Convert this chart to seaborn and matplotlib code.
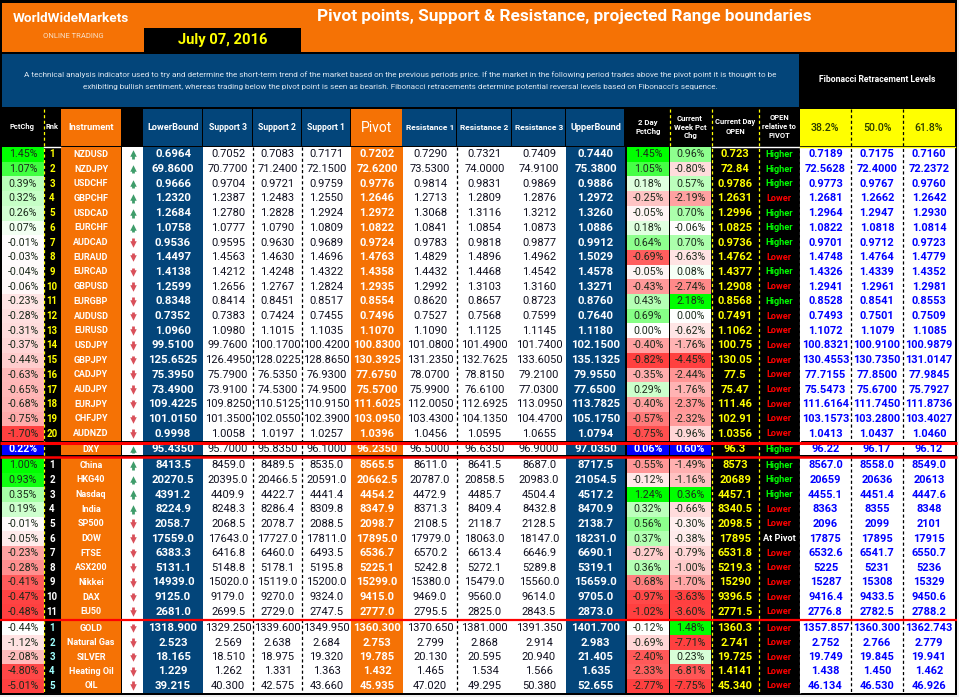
import numpy as np
import matplotlib
matplotlib.use('Agg')
import matplotlib.pyplot as plt
from matplotlib.colors import LinearSegmentedColormap, ListedColormap, TwoSlopeNorm
from matplotlib.patches import Rectangle
import seaborn as sns

instruments = ['NZDUSD', 'NZDJPY', 'USDCHF', 'GBPCHF', 'USDCAD', 'EURCHF', 'AUDCAD', 'EURAUD', 'EURCAD', 'GBPUSD',
               'EURGBP', 'AUDUSD', 'EURUSD', 'USDJPY', 'GBPJPY', 'CADJPY', 'AUDJPY', 'EURJPY', 'CHFJPY', 'AUDNZD',
               'DXY',
               'China', 'HKG40', 'Nasdaq', 'India', 'SP500', 'DOW', 'FTSE', 'ASX200', 'Nikkei', 'DAX', 'EU50',
               'GOLD', 'Natural Gas', 'SILVER', 'Heating Oil', 'OIL']
ranks = [str(i) for i in range(1, 21)] + [''] + [str(i) for i in range(1, 12)] + [str(i) for i in range(1, 6)]

pct_chg = [1.45, 1.07, 0.39, 0.32, 0.26, 0.07, -0.01, -0.03, -0.04, -0.06,
           -0.23, -0.28, -0.31, -0.37, -0.44, -0.63, -0.65, -0.68, -0.75, -1.70,
           0.22,
           1.00, 0.93, 0.35, 0.19, -0.01, -0.05, -0.23, -0.28, -0.41, -0.47, -0.48,
           -0.44, -1.12, -2.08, -4.80, -5.01]
two_day = [1.45, 1.05, 0.18, -0.25, -0.05, 0.18, 0.64, -0.69, -0.05, -0.43,
           0.43, 0.69, 0.00, -0.40, -0.82, -0.35, 0.29, -0.40, -0.57, -0.75,
           0.06,
           -0.55, -0.12, 1.24, 0.32, 0.56, 0.37, -0.27, 0.36, -0.68, -0.97, -1.02,
           -0.12, -0.69, -2.40, -2.33, -2.77]
week_chg = [0.96, -0.80, 0.57, -2.19, 0.70, -0.06, 0.70, -0.63, 0.08, -2.74,
            2.18, 0.00, -0.62, -1.76, -4.45, -2.44, -1.76, -2.37, -2.32, -0.96,
            0.60,
            -1.49, -1.16, 0.36, -0.66, -0.30, -0.38, -0.79, -1.00, -1.70, -3.63, -3.60,
            1.48, -7.71, 0.23, -6.81, -7.75]

lower_bound = ['0.6964', '69.8600', '0.9666', '1.2320', '1.2684', '1.0758', '0.9536', '1.4497', '1.4138', '1.2599',
               '0.8348', '0.7352', '1.0960', '99.5100', '125.6525', '75.3950', '73.4900', '109.4225', '101.0150', '0.9998',
               '95.4350',
               '8413.5', '20270.5', '4391.2', '8224.9', '2058.7', '17559.0', '6383.3', '5131.1', '14939.0', '9125.0', '2681.0',
               '1318.900', '2.523', '18.165', '1.229', '39.215']
support3 = ['0.7052', '70.7700', '0.9704', '1.2387', '1.2780', '1.0777', '0.9595', '1.4563', '1.4212', '1.2656',
            '0.8414', '0.7383', '1.0980', '99.7600', '126.4950', '75.7900', '73.9100', '109.8250', '101.3500', '1.0058',
            '95.7000',
            '8459.0', '20395.0', '4409.9', '8248.3', '2068.5', '17643.0', '6416.8', '5148.8', '15020.0', '9179.0', '2699.5',
            '1329.250', '2.569', '18.510', '1.262', '40.300']
support2 = ['0.7083', '71.2400', '0.9721', '1.2483', '1.2828', '1.0790', '0.9630', '1.4630', '1.4248', '1.2767',
            '0.8451', '0.7424', '1.1015', '100.1700', '128.0225', '76.5350', '74.5300', '110.5125', '102.0550', '1.0197',
            '95.8350',
            '8489.5', '20466.5', '4422.7', '8286.4', '2078.7', '17727.0', '6460.0', '5178.1', '15119.0', '9270.0', '2729.0',
            '1339.600', '2.638', '18.975', '1.331', '42.575']
support1 = ['0.7171', '72.1500', '0.9759', '1.2550', '1.2924', '1.0809', '0.9689', '1.4696', '1.4322', '1.2824',
            '0.8517', '0.7455', '1.1035', '100.4200', '128.8650', '76.9300', '74.9500', '110.9150', '102.3900', '1.0257',
            '96.1000',
            '8535.0', '20591.0', '4441.4', '8309.8', '2088.5', '17811.0', '6493.5', '5195.8', '15200.0', '9324.0', '2747.5',
            '1349.950', '2.684', '19.320', '1.363', '43.660']
pivot = ['0.7202', '72.6200', '0.9776', '1.2646', '1.2972', '1.0822', '0.9724', '1.4763', '1.4358', '1.2935',
         '0.8554', '0.7496', '1.1070', '100.8300', '130.3925', '77.6750', '75.5700', '111.6025', '103.0950', '1.0396',
         '96.2350',
         '8565.5', '20662.5', '4454.2', '8347.9', '2098.7', '17895.0', '6536.7', '5225.1', '15299.0', '9415.0', '2777.0',
         '1360.300', '2.753', '19.785', '1.432', '45.935']
resist1 = ['0.7290', '73.5300', '0.9814', '1.2713', '1.3068', '1.0841', '0.9783', '1.4829', '1.4432', '1.2992',
           '0.8620', '0.7527', '1.1090', '101.0800', '131.2350', '78.0700', '75.9900', '112.0050', '103.4300', '1.0456',
           '96.5000',
           '8611.0', '20787.0', '4472.9', '8371.3', '2108.5', '17979.0', '6570.2', '5242.8', '15380.0', '9469.0', '2795.5',
           '1370.650', '2.799', '20.130', '1.465', '47.020']
resist2 = ['0.7321', '74.0000', '0.9831', '1.2809', '1.3116', '1.0854', '0.9818', '1.4896', '1.4468', '1.3103',
           '0.8657', '0.7568', '1.1125', '101.4900', '132.7625', '78.8150', '76.6100', '112.6925', '104.1350', '1.0595',
           '96.6350',
           '8641.5', '20858.5', '4485.7', '8409.4', '2118.7', '18063.0', '6613.4', '5272.1', '15479.0', '9560.0', '2825.0',
           '1381.000', '2.868', '20.595', '1.534', '49.295']
resist3 = ['0.7409', '74.9100', '0.9869', '1.2876', '1.3212', '1.0873', '0.9877', '1.4962', '1.4542', '1.3160',
           '0.8723', '0.7599', '1.1145', '101.7400', '133.6050', '79.2100', '77.0300', '113.0950', '104.4700', '1.0655',
           '96.9000',
           '8687.0', '20983.0', '4504.4', '8432.8', '2128.5', '18147.0', '6646.9', '5289.8', '15560.0', '9614.0', '2843.5',
           '1391.350', '2.914', '20.940', '1.566', '50.380']
upper_bound = ['0.7440', '75.3800', '0.9886', '1.2972', '1.3260', '1.0886', '0.9912', '1.5029', '1.4578', '1.3271',
               '0.8760', '0.7640', '1.1180', '102.1500', '135.1325', '79.9550', '77.6500', '113.7825', '105.1750', '1.0794',
               '97.0350',
               '8717.5', '21054.5', '4517.2', '8470.9', '2138.7', '18231.0', '6690.1', '5319.1', '15659.0', '9705.0', '2873.0',
               '1401.700', '2.983', '21.405', '1.635', '52.655']
day_open = ['0.723', '72.84', '0.9786', '1.2631', '1.2996', '1.0825', '0.9736', '1.4762', '1.4377', '1.2908',
            '0.8568', '0.7491', '1.1062', '100.75', '130.05', '77.5', '75.47', '111.46', '102.91', '1.0356',
            '96.3',
            '8573', '20689', '4457.1', '8340.5', '2098.5', '17895', '6531.8', '5219.3', '15290', '9396.5', '2771.5',
            '1360.3', '2.741', '19.725', '1.4141', '45.340']
open_rel = ['Higher', 'Higher', 'Higher', 'Lower', 'Higher', 'Higher', 'Higher', 'Lower', 'Higher', 'Lower',
            'Higher', 'Lower', 'Lower', 'Lower', 'Lower', 'Lower', 'Lower', 'Lower', 'Lower', 'Lower',
            'Higher',
            'Higher', 'Higher', 'Higher', 'Lower', 'Lower', 'At Pivot', 'Lower', 'Lower', 'Lower', 'Lower', 'Lower',
            'Lower', 'Lower', 'Lower', 'Lower', 'Lower']
fib382 = ['0.7189', '72.5628', '0.9773', '1.2681', '1.2964', '1.0822', '0.9701', '1.4748', '1.4326', '1.2941',
          '0.8528', '0.7493', '1.1072', '100.8321', '130.4553', '77.7155', '75.5473', '111.6164', '103.1573', '1.0413',
          '96.22',
          '8567.0', '20659', '4455.1', '8363', '2096', '17875', '6532.6', '5225', '15287', '9416.4', '2776.8',
          '1357.857', '2.752', '19.749', '1.438', '46.134']
fib500 = ['0.7175', '72.4000', '0.9767', '1.2662', '1.2947', '1.0818', '0.9712', '1.4764', '1.4339', '1.2961',
          '0.8541', '0.7501', '1.1079', '100.9100', '130.7350', '77.8500', '75.6700', '111.7450', '103.2800', '1.0437',
          '96.17',
          '8558.0', '20636', '4451.4', '8355', '2099', '17895', '6541.7', '5231', '15308', '9433.5', '2782.5',
          '1360.300', '2.766', '19.845', '1.450', '46.530']
fib618 = ['0.7160', '72.2372', '0.9760', '1.2642', '1.2930', '1.0814', '0.9723', '1.4779', '1.4352', '1.2981',
          '0.8553', '0.7509', '1.1085', '100.9879', '131.0147', '77.9845', '75.7927', '111.8736', '103.4027', '1.0460',
          '96.12',
          '8549.0', '20613', '4447.6', '8348', '2101', '17915', '6550.7', '5236', '15329', '9450.6', '2788.2',
          '1362.743', '2.779', '19.941', '1.462', '46.926']

ORANGE = '#F57205'
BLUE = '#03457A'
W, H = 959, 697
FONT = 'Roboto'

plt.rcParams['font.family'] = FONT
fig = plt.figure(figsize=(W / 100, H / 100), dpi=100, facecolor='#f0f0f0')

# pixel canvas for the banner, headers and rules
base = fig.add_axes([0, 0, 1, 1])
base.set_xlim(0, W)
base.set_ylim(H, 0)
base.axis('off')


def box(x0, y0, x1, y1, color):
    base.add_patch(Rectangle((x0, y0), x1 - x0, y1 - y0, color=color, lw=0, zorder=1))


def label(x, y, s, color='white', size=8, weight='bold', **kw):
    base.text(x, y, s, color=color, fontsize=size, fontweight=weight, ha='center', va='center', zorder=3, **kw)


box(0, 0, 957, 695, 'black')
box(2, 3, 955, 52, ORANGE)
box(144, 28, 301, 52, 'black')
box(2, 54, 799, 107, BLUE)

label(71, 19, 'WorldWideMarkets', size=9.7)
label(73, 36, 'ONLINE TRADING', color='#f8e0c8', size=5.5, weight='normal')
label(223, 40, 'July 07, 2016', color='#FFFF00', size=10.6)
label(564, 16, 'Pivot points, Support & Resistance, projected Range boundaries', size=12.4)
label(400, 75, 'A technical analysis indicator used to try and determine the short-term trend of the market based on the '
      'previous periods price. If the market in the following period trades above the pivot point it is thought to be',
      color='#dbe6f0', size=5.85, weight='normal')
label(400, 87, "exhibiting bullish sentiment, whereas trading below the pivot point is seen as bearish. Fibonacci "
      "retracements determine potential reversal levels based on Fibonacci's sequence.",
      color='#dbe6f0', size=5.85, weight='normal')
label(877, 80, 'Fibonacci Retracement Levels', size=6.2)

# header row
box(61, 109, 121, 146, ORANGE)
for x0, x1 in [(143, 203), (203, 253), (253, 302), (302, 351), (402, 457), (457, 512), (512, 566), (566, 625)]:
    box(x0, 109, x1 - 0.6, 146, BLUE)
box(351, 109, 402, 146, ORANGE)
box(800, 109, 955, 146, '#FFFF00')

label(22, 127, 'PctChg', size=5.4)
label(52, 127, 'Rnk', size=5.4)
label(91, 127, 'Instrument', size=6.7)
label(173, 127, 'LowerBound', size=6.6)
label(228, 128, 'Support 3', size=6.2)
label(277, 128, 'Support 2', size=6.2)
label(326, 128, 'Support 1', size=6.2)
label(377, 128, 'Pivot', size=10, weight='normal')
label(430, 128, 'Resistance 1', size=6)
label(484, 128, 'Resistance 2', size=6)
label(539, 128, 'Resistance 3', size=6)
label(596, 128, 'UpperBound', size=6.6)
label(648, 127, '2 Day\nPctChg', size=5.6, linespacing=1.25)
label(690, 127, 'Current\nWeek Pct\nChg', size=5.6, linespacing=1.2)
label(735, 127, 'Current Day\nOPEN', size=5.4, linespacing=1.25)
label(779, 127, 'OPEN\nrelative to\nPIVOT', size=5.4, linespacing=1.2)
label(825, 128, '38.2%', color='#2a3a00', size=7.6, weight='medium')
label(877, 128, '50.0%', color='#2a3a00', size=7.6, weight='medium')
label(929, 128, '61.8%', color='#2a3a00', size=7.6, weight='medium')

# rows of the four blocks: slice of the data, top and bottom in pixels
blocks = [(slice(0, 20), 147, 441), (slice(20, 21), 444, 455), (slice(21, 32), 458, 619), (slice(32, 37), 621, 693)]
DXY = 1

scale = LinearSegmentedColormap.from_list('scale', ['#FF4040', '#FFFFFF', '#00FF00'])


def cell_ax(x0, y0, x1, y1):
    return fig.add_axes([x0 / W, 1 - y1 / H, (x1 - x0) / W, (y1 - y0) / H], zorder=2)


def flat_column(x0, x1, labels, fill, color, size, weight='normal'):
    for rows, y0, y1 in blocks:
        shown = np.array(labels[rows]).reshape(-1, 1)
        sns.heatmap(np.zeros(shown.shape), ax=cell_ax(x0, y0, x1, y1), cmap=ListedColormap([fill]), cbar=False,
                    annot=shown, fmt='', xticklabels=False, yticklabels=False,
                    annot_kws={'color': color, 'fontsize': size, 'fontweight': weight})


def pct_column(x0, x1, values, size=7.7):
    for i, (rows, y0, y1) in enumerate(blocks):
        vals = np.array(values[rows]).reshape(-1, 1)
        shown = np.array([[f'{v:.2f}%'] for v in vals[:, 0]])
        ax = cell_ax(x0, y0, x1, y1)
        if i == DXY:
            sns.heatmap(vals, ax=ax, cmap=ListedColormap(['#0000FF']), cbar=False, annot=shown, fmt='',
                        xticklabels=False, yticklabels=False,
                        annot_kws={'color': 'white', 'fontsize': size, 'fontweight': 'bold'})
        else:
            center = min(0, vals.max())
            top = max(vals.max(), center + 0.001)
            sns.heatmap(vals, ax=ax, cmap=scale, norm=TwoSlopeNorm(vmin=vals.min(), vcenter=center, vmax=top),
                        cbar=False, annot=shown, fmt='', xticklabels=False, yticklabels=False,
                        annot_kws={'color': '#1c2a1c', 'fontsize': size})


pct_column(2, 44, pct_chg)
flat_column(61, 121, instruments, ORANGE, 'white', 6.5, 'bold')
flat_column(143, 203, lower_bound, BLUE, 'white', 8.2, 'bold')
flat_column(203, 253, support3, 'white', '#101020', 8)
flat_column(253, 302, support2, 'white', '#101020', 8)
flat_column(302, 351, support1, 'white', '#101020', 8)
flat_column(351, 403, pivot, ORANGE, 'white', 8, 'bold')
flat_column(403, 457, resist1, 'white', '#101020', 8)
flat_column(457, 512, resist2, 'white', '#101020', 8)
flat_column(512, 566, resist3, 'white', '#101020', 8)
flat_column(566, 625, upper_bound, BLUE, 'white', 8.2, 'bold')
pct_column(627, 669, two_day)
pct_column(670, 711, week_chg)
flat_column(712, 758, day_open, 'black', '#FFFF00', 8, 'bold')
flat_column(800, 851, fib382, 'white', '#0000FF', 7.9, 'bold')
flat_column(851, 903, fib500, 'white', '#0000FF', 7.9, 'bold')
flat_column(903, 955, fib618, 'white', '#0000FF', 7.9, 'bold')

# rank, arrow and higher/lower columns colour each block or cell on their own
rank_colors = ['#FFFF00', 'white', 'white', '#A0FFFF']
rel_colors = {'Higher': '#00FF00', 'Lower': '#FF0000', 'At Pivot': 'white'}
for i, (rows, y0, y1) in enumerate(blocks):
    shown = np.array(ranks[rows]).reshape(-1, 1)
    sns.heatmap(np.zeros(shown.shape), ax=cell_ax(44, y0, 60, y1), cmap=ListedColormap(['black']), cbar=False,
                annot=shown, fmt='', xticklabels=False, yticklabels=False,
                annot_kws={'color': rank_colors[i], 'fontsize': 7, 'fontweight': 'bold'})

    shown = np.array(open_rel[rows]).reshape(-1, 1)
    ax = cell_ax(759, y0, 799, y1)
    sns.heatmap(np.zeros(shown.shape), ax=ax, cmap=ListedColormap(['black']), cbar=False, annot=shown, fmt='',
                xticklabels=False, yticklabels=False, annot_kws={'fontsize': 6.6, 'fontweight': 'bold'})
    for t in ax.texts:
        t.set_color(rel_colors[t.get_text()])

    ax = cell_ax(122, y0, 143, y1)
    moves = np.array(pct_chg[rows]).reshape(-1, 1)
    sns.heatmap(np.zeros(moves.shape), ax=ax, cmap=ListedColormap(['white']), cbar=False,
                xticklabels=False, yticklabels=False)
    for n, v in enumerate(moves[:, 0]):
        up = v > 0
        arrow_color = '#3F9D6B' if up else '#D9505A'
        ax.scatter(0.5, n + (0.42 if up else 0.58), marker='^' if up else 'v', s=22, lw=0, zorder=3, color=arrow_color)
        ax.plot([0.5, 0.5], [n + 0.5, n + (0.8 if up else 0.2)], lw=2, zorder=3, color=arrow_color,
                solid_capstyle='butt')

# rules drawn over the cells
over = fig.add_axes([0, 0, 1, 1], zorder=5)
over.set_xlim(0, W)
over.set_ylim(H, 0)
over.axis('off')
over.patch.set_alpha(0)
for x, y0, y1, c in [(43.8, 109, 693, '#FFFF00'), (669.5, 109, 146, '#FFFF00'), (711.5, 109, 693, '#FFFF00'),
                     (758.5, 109, 693, '#FFFF00'), (799.5, 147, 693, 'white'),
                     (253, 147, 693, 'black'), (302, 147, 693, 'black'), (457, 147, 693, 'black'),
                     (851, 109, 693, 'black'), (903, 109, 693, 'black')]:
    over.plot([x, x], [y0, y1], color=c, lw=0.9, ls=(0, (2.5, 2)))
over.plot([712, 799], [146.5, 146.5], color='white', lw=1)
over.plot([44, 60], [146.5, 146.5], color='white', lw=1)
over.plot([800, 955], [146.5, 146.5], color='#FFFF00', lw=1)
over.plot([0, 957], [442.5, 442.5], color='#FF0000', lw=2.2, solid_capstyle='butt')
over.plot([0, 957], [456.5, 456.5], color='#FF0000', lw=1.8, solid_capstyle='butt')
over.plot([0, 957], [620, 620], color='#FF0000', lw=1.6, solid_capstyle='butt')

fig.savefig('out.png', dpi=100, facecolor=fig.get_facecolor())
